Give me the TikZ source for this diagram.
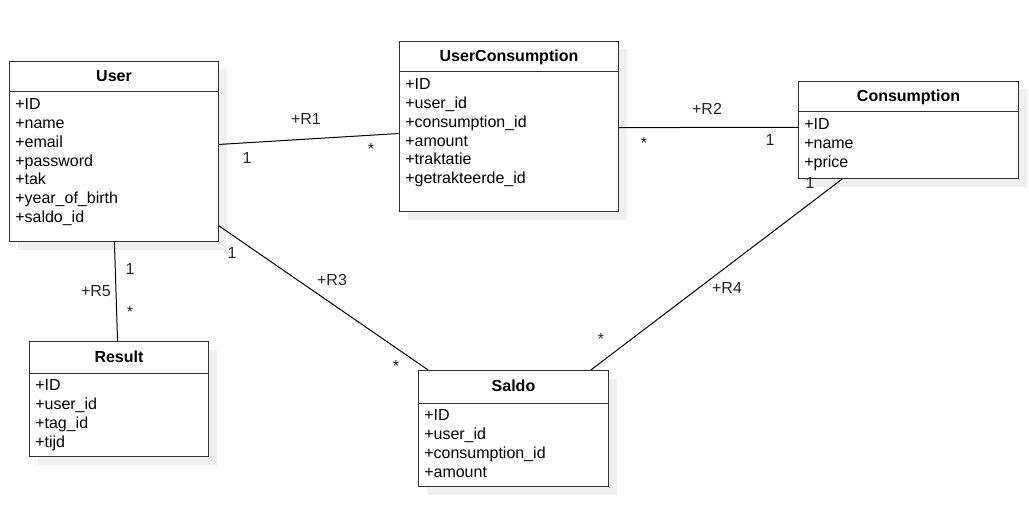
\documentclass[tikz,border=0pt]{standalone}
\usepackage{fontspec}
\setmainfont{Liberation Sans}
\usetikzlibrary{shadows,calc}
\begin{document}
\begin{tikzpicture}[x=0.75pt,y=-0.75pt,
  box/.style={draw=black!80, line width=0.75pt, fill=white, inner sep=0pt, anchor=north west,
    drop shadow={shadow xshift=6pt, shadow yshift=-6pt, fill=black!6, opacity=1}},
  boxline/.style={draw=black!80, line width=0.75pt},
  title/.style={font=\bfseries\fontsize{12}{14}\selectfont, inner sep=0pt},
  attr/.style={font=\fontsize{12}{14}\selectfont, anchor=base west, inner sep=0pt},
  lbl/.style={font=\fontsize{12}{14}\selectfont, anchor=base, inner sep=0pt, text=black!85},
  conn/.style={draw=black, line width=0.75pt}]
\useasboundingbox (0,0) rectangle (1029,517);
\newcommand\umlclass[8]{%
  \node[box, minimum width=#4*0.75pt, minimum height=#5*0.75pt] (#1) at (#2,#3) {};
  \draw[boxline] ($(#1.north west)+(0,#6)$) -- ($(#1.north east)+(0,#6)$);
  \node[title, anchor=base] (#1-title) at ($(#1.north)+(0,21)$) {#7};
  \foreach \a [count=\i] in {#8} {\node[attr] (#1-a\i) at ($(#1.north west)+(6,#6+17.5+\i*18.85-18.85)$) {\a};}
}
\umlclass{User}{9}{61}{209}{180}{31}{User}{+ID,+name,+email,+password,+tak,+year\_of\_birth,+saldo\_id}
\umlclass{UC}{399}{41}{219}{170}{31}{UserConsumption}{+ID,+user\_id,+consumption\_id,+amount,+traktatie,+getrakteerde\_id}
\umlclass{Cons}{798}{81}{220}{97}{31}{Consumption}{+ID,+name,+price}
\umlclass{Result}{29}{341}{179}{115}{32}{Result}{+ID,+user\_id,+tag\_id,+tijd}
\umlclass{Saldo}{418}{370}{190}{116}{33}{Saldo}{+ID,+user\_id,+consumption\_id,+amount}
% connectors
\draw[conn] ($(User.north east)!0.461!(User.south east)$) -- ($(UC.north west)!0.541!(UC.south west)$);
\draw[conn] ($(UC.north east)!0.506!(UC.south east)$) -- ($(Cons.north west)!0.474!(Cons.south west)$);
\draw[conn] ($(User.north east)!0.911!(User.south east)$) -- ($(Saldo.north west)!0.053!(Saldo.north east)$);
\draw[conn] ($(Cons.south west)!0.2!(Cons.south east)$) -- ($(Saldo.north west)!0.905!(Saldo.north east)$);
\draw[conn] ($(User.south west)!0.502!(User.south east)$) -- ($(Result.north west)!0.492!(Result.north east)$);
% labels
\node[lbl] (r1) at (306,124) {+R1};
\node[lbl] (r1a) at (247,163) {1};
\node[lbl] (r1b) at (371,154) {*};
\node[lbl] (r2) at (707,114) {+R2};
\node[lbl] (r2a) at (644,148) {*};
\node[lbl] (r2b) at (770,146) {1};
\node[lbl] (r3) at (332,285) {+R3};
\node[lbl] (r3a) at (232,258) {1};
\node[lbl] (r3b) at (396,371) {*};
\node[lbl] (r4) at (727,293) {+R4};
\node[lbl] (r4a) at (810,188) {1};
\node[lbl] (r4b) at (601,344) {*};
\node[lbl] (r5) at (96,296) {+R5};
\node[lbl] (r5a) at (130,274) {1};
\node[lbl] (r5b) at (130,317) {*};
\end{tikzpicture}
\end{document}
